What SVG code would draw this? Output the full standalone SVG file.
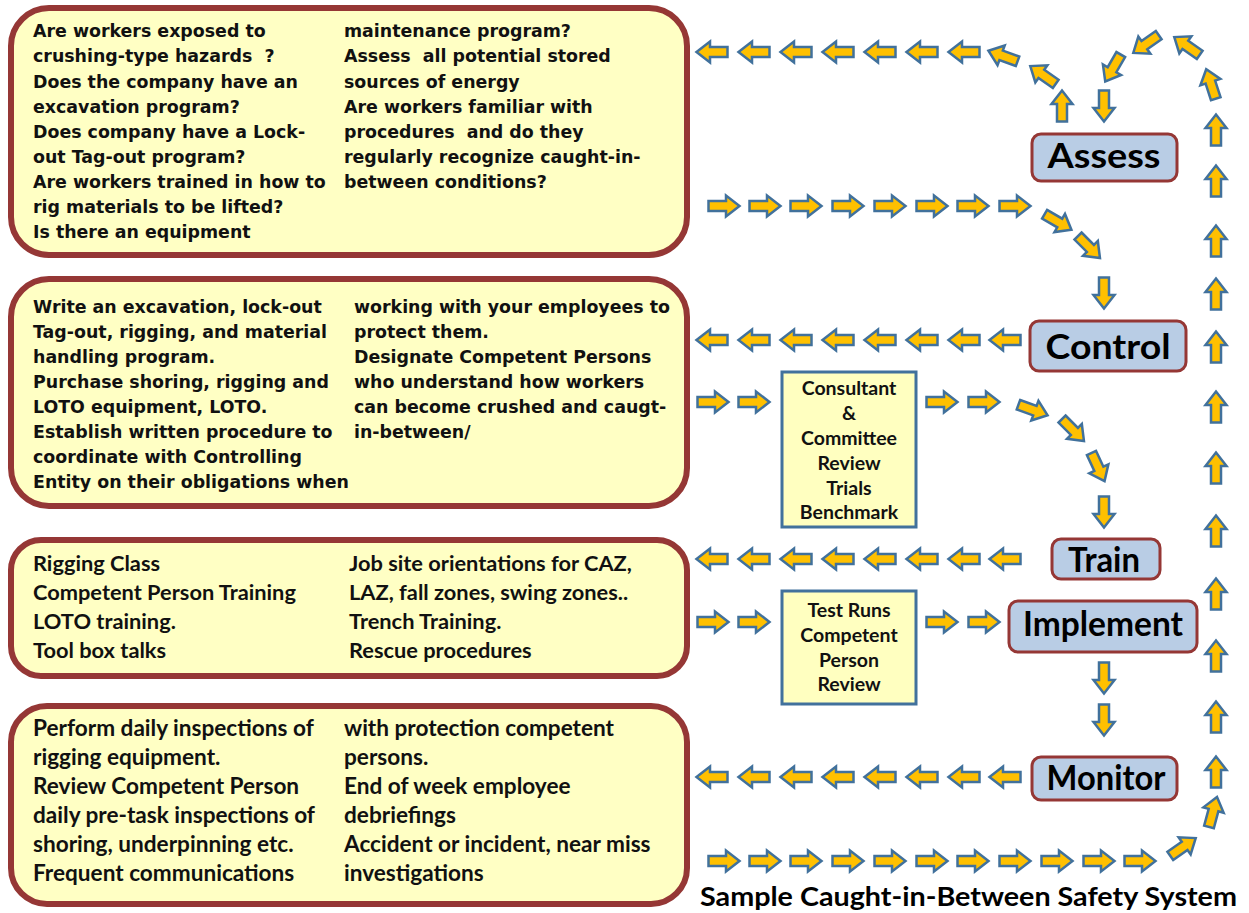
<svg xmlns="http://www.w3.org/2000/svg" xmlns:xlink="http://www.w3.org/1999/xlink" width="1249" height="913" viewBox="0 0 1249 913">
<style>
.big{fill:#FFFFC4;stroke:#953735;stroke-width:6}
.node{fill:#B9CDE5;stroke:#953735;stroke-width:3}
.note{fill:#FFFFC0;stroke:#41719C;stroke-width:3}
.v{font-family:"DejaVu Sans",Verdana,sans-serif;font-weight:bold;font-size:17.4px;fill:#111;white-space:pre}
.c{font-family:Lato,"Open Sans",sans-serif;font-weight:bold;font-size:21.8px;fill:#111}
.c2{font-family:Lato,"Open Sans",sans-serif;font-weight:bold;font-size:22.6px;fill:#111}
.n{font-family:Lato,"Open Sans",sans-serif;font-weight:bold;font-size:19.5px;fill:#111;text-anchor:middle}
.lbl{font-family:Lato,"Open Sans",sans-serif;font-weight:bold;font-size:35px;fill:#000;text-anchor:middle}
.ttl{font-family:Lato,"Open Sans",sans-serif;font-weight:bold;font-size:27px;fill:#000}
.ar{fill:#FFC000;stroke:#41719C;stroke-width:2.5;stroke-linejoin:miter}
</style>
<defs>
<path id="a" class="ar" d="M-15.5,-5 H2 V-10.5 L15.5,0 L2,10.5 V5 H-15.5 Z"/>
</defs>
<rect width="1249" height="913" fill="#fff"/>

<g id="box-assess">
<rect class="big" x="11" y="8" width="676" height="247" rx="38"/>
<text class="v" xml:space="preserve"><tspan x="33" y="37">Are workers exposed to</tspan><tspan x="33" y="62">crushing-type hazards  ?</tspan><tspan x="33" y="88">Does the company have an</tspan><tspan x="33" y="113">excavation program?</tspan><tspan x="33" y="138">Does company have a Lock-</tspan><tspan x="33" y="163">out Tag-out program?</tspan><tspan x="33" y="188">Are workers trained in how to</tspan><tspan x="33" y="213">rig materials to be lifted?</tspan><tspan x="33" y="238">Is there an equipment</tspan></text>
<text class="v" xml:space="preserve"><tspan x="344" y="37">maintenance program?</tspan><tspan x="344" y="62">Assess  all potential stored</tspan><tspan x="344" y="88">sources of energy</tspan><tspan x="344" y="113">Are workers familiar with</tspan><tspan x="344" y="138">procedures  and do they</tspan><tspan x="344" y="163">regularly recognize caught-in-</tspan><tspan x="344" y="188">between conditions?</tspan></text>
</g>

<g id="box-control">
<rect class="big" x="11" y="279" width="676" height="227" rx="38"/>
<text class="v"><tspan x="33" y="313">Write an excavation, lock-out</tspan><tspan x="33" y="338">Tag-out, rigging, and material</tspan><tspan x="33" y="363">handling program.</tspan><tspan x="33" y="388">Purchase shoring, rigging and</tspan><tspan x="33" y="413">LOTO equipment, LOTO.</tspan><tspan x="33" y="438">Establish written procedure to</tspan><tspan x="33" y="463">coordinate with Controlling</tspan><tspan x="33" y="488">Entity on their obligations when</tspan></text>
<text class="v"><tspan x="354" y="313">working with your employees to</tspan><tspan x="354" y="338">protect them.</tspan><tspan x="354" y="363">Designate Competent Persons</tspan><tspan x="354" y="388">who understand how workers</tspan><tspan x="354" y="413">can become crushed and caugt-</tspan><tspan x="354" y="438">in-between/</tspan></text>
</g>

<g id="box-train">
<rect class="big" x="11" y="540" width="676" height="136" rx="30"/>
<text class="c"><tspan x="33" y="571">Rigging Class</tspan><tspan x="33" y="600">Competent Person Training</tspan><tspan x="33" y="629">LOTO training.</tspan><tspan x="33" y="658">Tool box talks</tspan></text>
<text class="c"><tspan x="349" y="571">Job site orientations for CAZ,</tspan><tspan x="349" y="600">LAZ, fall zones, swing zones..</tspan><tspan x="349" y="629">Trench Training.</tspan><tspan x="349" y="658">Rescue procedures</tspan></text>
</g>

<g id="box-monitor">
<rect class="big" x="11" y="706" width="676" height="198" rx="36"/>
<text class="c2"><tspan x="33" y="736">Perform daily inspections of</tspan><tspan x="33" y="765">rigging equipment.</tspan><tspan x="33" y="794">Review Competent Person</tspan><tspan x="33" y="823">daily pre-task inspections of</tspan><tspan x="33" y="852">shoring, underpinning etc.</tspan><tspan x="33" y="881">Frequent communications</tspan></text>
<text class="c2"><tspan x="344" y="736">with protection competent</tspan><tspan x="344" y="765">persons.</tspan><tspan x="344" y="794">End of week employee</tspan><tspan x="344" y="823">debriefings</tspan><tspan x="344" y="852">Accident or incident, near miss</tspan><tspan x="344" y="881">investigations</tspan></text>
</g>

<g id="node-assess">
<rect class="node" x="1032" y="134" width="145" height="47" rx="9"/>
<text class="lbl" x="1104" y="168" textLength="113" lengthAdjust="spacingAndGlyphs">Assess</text>
</g>
<g id="node-control">
<rect class="node" x="1030" y="321" width="156" height="50" rx="9"/>
<text class="lbl" x="1108" y="359" textLength="125" lengthAdjust="spacingAndGlyphs">Control</text>
</g>
<g id="node-train">
<rect class="node" x="1052" y="539" width="108" height="40" rx="9"/>
<text class="lbl" x="1104" y="572" textLength="72" lengthAdjust="spacingAndGlyphs">Train</text>
</g>
<g id="node-implement">
<rect class="node" x="1009" y="601" width="188" height="51" rx="9"/>
<text class="lbl" x="1103" y="636" textLength="160" lengthAdjust="spacingAndGlyphs">Implement</text>
</g>
<g id="node-monitor">
<rect class="node" x="1032" y="757" width="145" height="43" rx="9"/>
<text class="lbl" x="1106" y="790" textLength="119" lengthAdjust="spacingAndGlyphs">Monitor</text>
</g>

<g id="note-review">
<rect class="note" x="782" y="372" width="134" height="155"/>
<text class="n"><tspan x="849" y="395">Consultant</tspan><tspan x="849" y="420">&amp;</tspan><tspan x="849" y="445">Committee</tspan><tspan x="849" y="470">Review</tspan><tspan x="849" y="495">Trials</tspan><tspan x="849" y="519">Benchmark</tspan></text>
</g>
<g id="note-test">
<rect class="note" x="782" y="591" width="134" height="113"/>
<text class="n"><tspan x="849" y="617">Test Runs</tspan><tspan x="849" y="642">Competent</tspan><tspan x="849" y="667">Person</tspan><tspan x="849" y="691">Review</tspan></text>
</g>

<g id="connectors">
<use href="#a" transform="translate(712,52) rotate(180)"/>
<use href="#a" transform="translate(754,52) rotate(180)"/>
<use href="#a" transform="translate(796,52) rotate(180)"/>
<use href="#a" transform="translate(838,52) rotate(180)"/>
<use href="#a" transform="translate(880,52) rotate(180)"/>
<use href="#a" transform="translate(922,52) rotate(180)"/>
<use href="#a" transform="translate(964,52) rotate(180)"/>
<use href="#a" transform="translate(1003,56) rotate(200)"/>
<use href="#a" transform="translate(1043,75) rotate(215)"/>
<use href="#a" transform="translate(1062,106) rotate(-90)"/>
<use href="#a" transform="translate(1104,106) rotate(90)"/>
<use href="#a" transform="translate(1113,68) rotate(120)"/>
<use href="#a" transform="translate(1146,44) rotate(145)"/>
<use href="#a" transform="translate(1187,46) rotate(215)"/>
<use href="#a" transform="translate(1211,84) rotate(252)"/>
<use href="#a" transform="translate(1216,130) rotate(-90)"/>
<use href="#a" transform="translate(1216,181) rotate(-90)"/>
<use href="#a" transform="translate(1216,241) rotate(-90)"/>
<use href="#a" transform="translate(1216,294) rotate(-90)"/>
<use href="#a" transform="translate(1216,347) rotate(-90)"/>
<use href="#a" transform="translate(1216,407) rotate(-90)"/>
<use href="#a" transform="translate(1216,468) rotate(-90)"/>
<use href="#a" transform="translate(1216,531) rotate(-90)"/>
<use href="#a" transform="translate(1216,594) rotate(-90)"/>
<use href="#a" transform="translate(1216,656) rotate(-90)"/>
<use href="#a" transform="translate(1216,717) rotate(-90)"/>
<use href="#a" transform="translate(1216,772) rotate(-90)"/>
<use href="#a" transform="translate(1213,812) rotate(-75)"/>
<use href="#a" transform="translate(1183,847) rotate(-35)"/>
<use href="#a" transform="translate(724,206)"/>
<use href="#a" transform="translate(765,206)"/>
<use href="#a" transform="translate(806,206)"/>
<use href="#a" transform="translate(848,206)"/>
<use href="#a" transform="translate(890,206)"/>
<use href="#a" transform="translate(932,206)"/>
<use href="#a" transform="translate(973,206)"/>
<use href="#a" transform="translate(1015,206)"/>
<use href="#a" transform="translate(1058,222) rotate(30)"/>
<use href="#a" transform="translate(1089,247) rotate(45)"/>
<use href="#a" transform="translate(1104,293) rotate(90)"/>
<use href="#a" transform="translate(712,340) rotate(180)"/>
<use href="#a" transform="translate(754,340) rotate(180)"/>
<use href="#a" transform="translate(796,340) rotate(180)"/>
<use href="#a" transform="translate(838,340) rotate(180)"/>
<use href="#a" transform="translate(880,340) rotate(180)"/>
<use href="#a" transform="translate(922,340) rotate(180)"/>
<use href="#a" transform="translate(964,340) rotate(180)"/>
<use href="#a" transform="translate(1005,340) rotate(180)"/>
<use href="#a" transform="translate(713,402)"/>
<use href="#a" transform="translate(754,402)"/>
<use href="#a" transform="translate(942,402)"/>
<use href="#a" transform="translate(984,402)"/>
<use href="#a" transform="translate(1033,410) rotate(20)"/>
<use href="#a" transform="translate(1073,430) rotate(45)"/>
<use href="#a" transform="translate(1098,467) rotate(65)"/>
<use href="#a" transform="translate(1104,512) rotate(90)"/>
<use href="#a" transform="translate(712,559) rotate(180)"/>
<use href="#a" transform="translate(754,559) rotate(180)"/>
<use href="#a" transform="translate(796,559) rotate(180)"/>
<use href="#a" transform="translate(838,559) rotate(180)"/>
<use href="#a" transform="translate(880,559) rotate(180)"/>
<use href="#a" transform="translate(922,559) rotate(180)"/>
<use href="#a" transform="translate(964,559) rotate(180)"/>
<use href="#a" transform="translate(1005,559) rotate(180)"/>
<use href="#a" transform="translate(713,622)"/>
<use href="#a" transform="translate(754,622)"/>
<use href="#a" transform="translate(942,622)"/>
<use href="#a" transform="translate(984,622)"/>
<use href="#a" transform="translate(1104,678) rotate(90)"/>
<use href="#a" transform="translate(1104,720) rotate(90)"/>
<use href="#a" transform="translate(712,777) rotate(180)"/>
<use href="#a" transform="translate(754,777) rotate(180)"/>
<use href="#a" transform="translate(796,777) rotate(180)"/>
<use href="#a" transform="translate(838,777) rotate(180)"/>
<use href="#a" transform="translate(880,777) rotate(180)"/>
<use href="#a" transform="translate(922,777) rotate(180)"/>
<use href="#a" transform="translate(964,777) rotate(180)"/>
<use href="#a" transform="translate(1005,777) rotate(180)"/>
<use href="#a" transform="translate(724,861)"/>
<use href="#a" transform="translate(765,861)"/>
<use href="#a" transform="translate(806,861)"/>
<use href="#a" transform="translate(848,861)"/>
<use href="#a" transform="translate(890,861)"/>
<use href="#a" transform="translate(932,861)"/>
<use href="#a" transform="translate(973,861)"/>
<use href="#a" transform="translate(1015,861)"/>
<use href="#a" transform="translate(1057,861)"/>
<use href="#a" transform="translate(1099,861)"/>
<use href="#a" transform="translate(1140,861)"/>
</g>

<text class="ttl" x="700" y="906" textLength="537" lengthAdjust="spacingAndGlyphs">Sample Caught-in-Between Safety System</text>
</svg>
